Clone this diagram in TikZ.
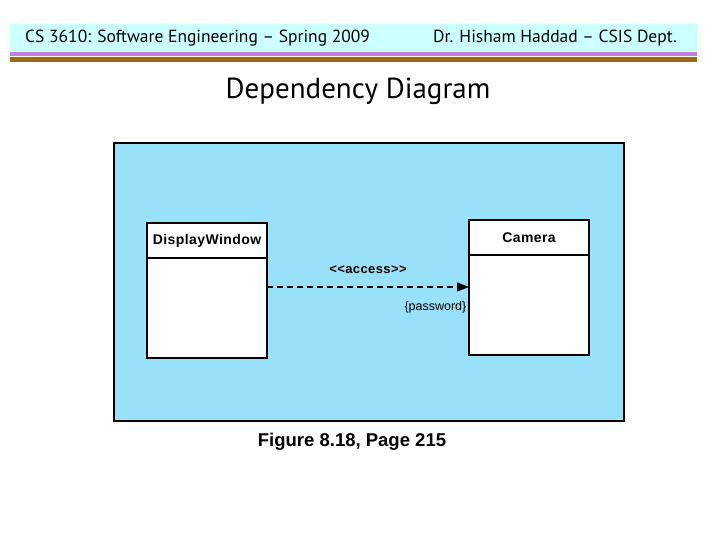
\documentclass[tikz,border=0pt]{standalone}
\usepackage{fontspec}
\setmainfont{Liberation Sans}
\newfontfamily\headfont{PT Sans}
\newfontfamily\umlfont[LetterSpace=3]{Liberation Sans}
\usetikzlibrary{positioning,arrows.meta}
\definecolor{bandcyan}{RGB}{204,255,255}
\definecolor{bandpurple}{RGB}{192,128,224}
\definecolor{bandbrown}{RGB}{155,105,15}
\definecolor{panelblue}{RGB}{153,225,249}

\begin{document}
\begin{tikzpicture}[
        x=1pt, y=-1pt,
        classname/.style={draw, fill=white, line width=2pt, outer sep=0pt, inner sep=0pt,
            minimum width=120pt, minimum height=35pt, font=\umlfont\bfseries\fontsize{14}{16}\selectfont},
        classbody/.style={draw, fill=white, line width=2pt, outer sep=0pt,
            minimum width=120pt, minimum height=100pt},
        dep/.style={line width=1.3pt, dash pattern=on 6pt off 4pt, -{Triangle[length=12pt,width=9pt]}}
    ]
        \useasboundingbox (0,0) rectangle (720,540);
        % Cabecera de la diapositiva
        \fill[bandcyan] (10,24) rectangle (697,51);
        \fill[bandpurple] (10,52) rectangle (697,56);
        \fill[bandbrown] (10,57) rectangle (697,62);
        \node[anchor=west, inner sep=0pt, font=\headfont\fontsize{17.5}{20}\selectfont] (course) at (25,38) {CS 3610: Software Engineering – Spring 2009};
        \node[anchor=east, inner sep=0pt, font=\headfont\fontsize{17.5}{20}\selectfont] (author) at (677,38) {Dr. Hisham Haddad – CSIS Dept.};
        \node[font=\headfont\fontsize{29}{33}\selectfont] (title) at (358,91) {Dependency Diagram};

        % Panel azul con las dos clases
        \node[draw, fill=panelblue, line width=1.8pt, minimum width=510pt, minimum height=278pt, anchor=north west] (panel) at (113,142) {};
        \node[classname] (dw) at (207,240.5) {DisplayWindow};
        \node[classbody, below=0pt of dw] (dwbody) {};
        \node[classname] (cam) at (529,237.5) {Camera};
        \node[classbody, below=0pt of cam] (cambody) {};

        % Dependencia de acceso
        \draw[dep] ([yshift=21pt]dwbody.east) -- ([yshift=18pt]cambody.west)
            node[midway, above=9pt, font=\umlfont\bfseries\fontsize{13}{15}\selectfont] (access) {<{}<access>{}>}
            node[pos=1, below left=14pt and 2pt, inner sep=0pt, font=\fontsize{12.5}{14}\selectfont] (pwd) {\{password\}};

        \node[font=\bfseries\fontsize{18.5}{21}\selectfont] (caption) at (352,442) {Figure 8.18, Page 215};
        \end{tikzpicture}
\end{document}
